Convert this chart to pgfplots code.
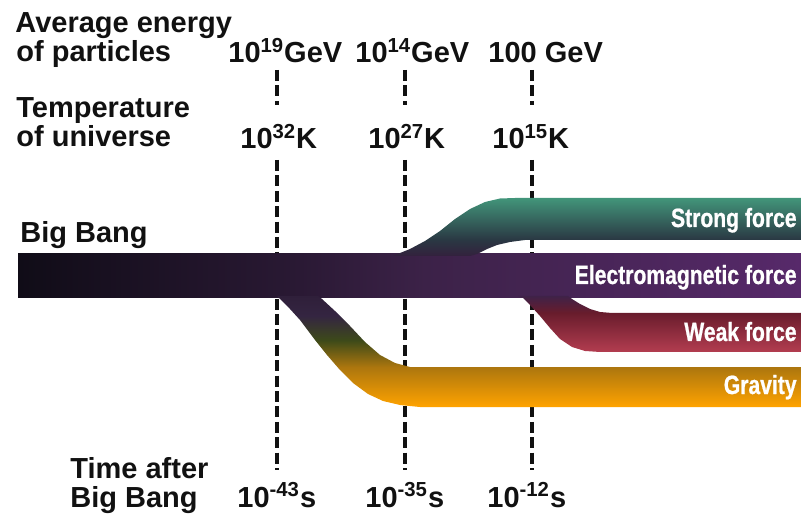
\documentclass[border=0pt]{standalone}
\usepackage{pgfplots}
\pgfplotsset{compat=1.18}
\usepackage{fontspec}
\setmainfont{Liberation Sans}
\newfontfamily\cond[FakeStretch=0.8, FakeBold=0.8]{Liberation Sans}

\definecolor{ink}{HTML}{111111}
\definecolor{bbA}{HTML}{100C17}
\definecolor{bbB}{HTML}{2A1934}
\definecolor{bbC}{HTML}{3C2248}
\definecolor{bbD}{HTML}{57296A}
\definecolor{stA}{HTML}{33213D}
\definecolor{stB}{HTML}{2A3843}
\definecolor{stC}{HTML}{42957A}
\definecolor{wkA}{HTML}{B33D50}
\definecolor{wkB}{HTML}{681C2C}
\definecolor{wkC}{HTML}{3F2248}
\definecolor{grA}{HTML}{FFA300}
\definecolor{grB}{HTML}{AC760E}
\definecolor{grC}{HTML}{3D4A19}
\definecolor{grD}{HTML}{342541}
\definecolor{grE}{HTML}{2F1F3A}

% shadings: the inner 25bp..75bp part is stretched over the path
\pgfdeclarehorizontalshading{trunk}{100bp}{color(0bp)=(bbA); color(25bp)=(bbA);
  color(43bp)=(bbB); color(51bp)=(bbC); color(75bp)=(bbD); color(100bp)=(bbD)}
\pgfdeclareverticalshading{strong}{100bp}{color(0bp)=(stA); color(25bp)=(stA);
  color(39bp)=(stB); color(75bp)=(stC); color(100bp)=(stC)}
\pgfdeclareverticalshading{weak}{100bp}{color(0bp)=(wkA); color(25bp)=(wkA);
  color(60bp)=(wkB); color(75bp)=(wkC); color(100bp)=(wkC)}
\pgfdeclareverticalshading{gravity}{100bp}{color(0bp)=(grA); color(25bp)=(grA);
  color(43bp)=(grB); color(55bp)=(grC); color(66bp)=(grD); color(75bp)=(grE); color(100bp)=(grE)}

\tikzset{lbl/.style={anchor=base west, text=ink, inner sep=0pt,
    font=\bfseries\fontsize{14.5}{14.5}\selectfont},
  band/.style={anchor=base east, text=white, inner sep=0pt,
    font=\cond\bfseries\fontsize{13.2}{13.2}\selectfont},
  marker/.style={ink, line width=1.8pt, dash pattern=on 5.5pt off 2.2pt}}

\begin{document}
\begin{tikzpicture}
\begin{axis}[
    x=0.5pt, y=0.5pt,
    xmin=0, xmax=801, ymin=0, ymax=513,
    y dir=reverse,
    hide axis,
    clip=false,
    scale only axis,
]
% keep the full frame as the page
\path (axis cs:0,0) rectangle (axis cs:801,513);

% dashed time markers (behind the bands)
\addplot[marker] coordinates {(277,70) (277,105)};
\addplot[marker] coordinates {(277,160) (277,470)};
\addplot[marker] coordinates {(405,70) (405,105)};
\addplot[marker] coordinates {(405,160) (405,470)};
\addplot[marker] coordinates {(532,70) (532,105)};
\addplot[marker] coordinates {(532,160) (532,470)};

% Big Bang trunk / electromagnetic force
\addplot[draw=none, shade, shading=trunk] coordinates {
  (18,254) (801,254) (801,297.5) (18,297.5)} -- cycle;

% gravity branch
\addplot[draw=none, shade, shading=gravity] coordinates {
  (277,296) (283,302) (290,309) (300,320) (315,340) (327,355) (340,370)
  (353,383) (368,394) (383,401) (400,405) (420,407) (801,407) (801,367)
  (430,367) (410,367) (395,363) (380,355) (365,342) (350,326) (335,311)
  (322,299) (318,296)} -- cycle;

% strong force branch
\addplot[draw=none, shade, shading=strong] coordinates {
  (393,256) (400,253) (410,249) (425,241) (440,231) (455,219) (470,209)
  (485,202) (500,198.5) (515,198) (801,198) (801,240) (525,240) (510,242)
  (497,245) (487,249) (477,254) (470,256)} -- cycle;

% weak force branch
\addplot[draw=none, shade, shading=weak] coordinates {
  (518,296) (522,297) (530,305) (540,316) (550,328) (560,339) (572,347)
  (585,351) (600,352) (801,352) (801,313) (612,313) (600,312) (590,309)
  (580,304) (572,299) (568,296)} -- cycle;

% band labels
\node[band] at (axis cs:797,227) {Strong force};
\node[band] at (axis cs:797,284) {Electromagnetic force};
\node[band] at (axis cs:797,341) {Weak force};
\node[band] at (axis cs:797,394) {Gravity};

% left captions
\node[lbl] at (axis cs:15,33) {Average energy};
\node[lbl] at (axis cs:16,62) {of particles};
\node[lbl] at (axis cs:16,118) {Temperature};
\node[lbl] at (axis cs:16,147) {of universe};
\node[lbl] at (axis cs:20,243) {Big Bang};
\node[lbl] at (axis cs:70,478) {Time after};
\node[lbl] at (axis cs:70,507) {Big Bang};

% energy row
\node[lbl] at (axis cs:228,63) {10\textsuperscript{19}GeV};
\node[lbl] at (axis cs:355,63) {10\textsuperscript{14}GeV};
\node[lbl] at (axis cs:488,63) {100 GeV};
% temperature row
\node[lbl] at (axis cs:240,149) {10\textsuperscript{32}K};
\node[lbl] at (axis cs:368,149) {10\textsuperscript{27}K};
\node[lbl] at (axis cs:492,149) {10\textsuperscript{15}K};
% time row
\node[lbl] at (axis cs:237,507) {10\textsuperscript{-43}s};
\node[lbl] at (axis cs:365,507) {10\textsuperscript{-35}s};
\node[lbl] at (axis cs:487,507) {10\textsuperscript{-12}s};
\end{axis}
\end{tikzpicture}
\end{document}
